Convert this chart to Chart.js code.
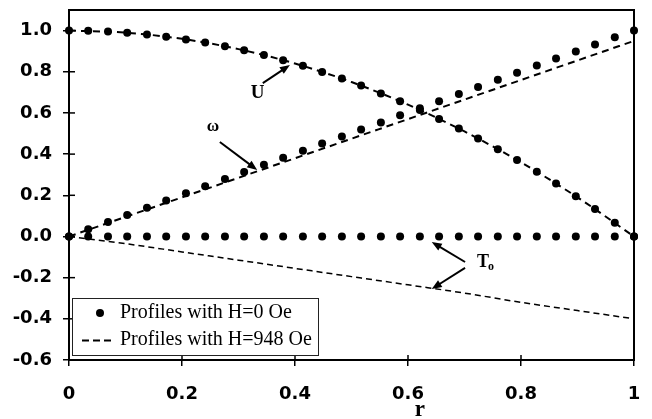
<!DOCTYPE html>
<html>
<head>
<meta charset="utf-8">
<script src="https://cdn.jsdelivr.net/npm/chart.js@4/dist/chart.umd.min.js"></script>
<style>
    body { margin: 0; background: #fff; }
    #wrap { width: 652px; height: 419px; position: relative; }
</style>
</head>
<body>
<div id="wrap"><canvas id="profileChart"></canvas></div>
<script>
// radial positions of the symbols (H = 0 Oe)
const rDots = [0, 0.034, 0.069, 0.103, 0.138, 0.172, 0.207, 0.241, 0.276, 0.310,
    0.345, 0.379, 0.414, 0.448, 0.483, 0.517, 0.552, 0.586, 0.621, 0.655,
    0.690, 0.724, 0.759, 0.793, 0.828, 0.862, 0.897, 0.931, 0.966, 1.0];
const uDots = [1.000, 0.999, 0.995, 0.989, 0.981, 0.970, 0.957, 0.942, 0.924, 0.904,
    0.881, 0.856, 0.829, 0.799, 0.767, 0.733, 0.695, 0.657, 0.614, 0.571,
    0.524, 0.476, 0.424, 0.371, 0.314, 0.257, 0.195, 0.133, 0.067, 0.000];
const omegaDots = [0, 0.035, 0.070, 0.104, 0.140, 0.175, 0.210, 0.244, 0.279, 0.313,
    0.348, 0.382, 0.416, 0.451, 0.486, 0.519, 0.554, 0.589, 0.623, 0.657,
    0.692, 0.726, 0.761, 0.795, 0.830, 0.864, 0.899, 0.933, 0.968, 1.0];
const tDots = [0, 0, 0, 0, 0, 0, 0, 0, 0, 0, 0, 0, 0, 0, 0,
    0, 0, 0, 0, 0, 0, 0, 0, 0, 0, 0, 0, 0, 0, 0];

// dashed curves (H = 948 Oe)
const rLine = [0, 0.1, 0.2, 0.3, 0.4, 0.5, 0.6, 0.7, 0.8, 0.9, 1.0];
const uLine = [1.0, 0.99, 0.96, 0.91, 0.84, 0.75, 0.64, 0.51, 0.36, 0.19, 0.0];
const omegaLine = [0, 0.095, 0.19, 0.285, 0.38, 0.475, 0.57, 0.665, 0.76, 0.855, 0.95];
const tLine = [0, -0.035, -0.075, -0.115, -0.155, -0.195, -0.235, -0.275, -0.32, -0.36, -0.40];

const xTicks = [0, 0.2, 0.4, 0.6, 0.8, 1];
const yTicks = [-0.6, -0.4, -0.2, 0.0, 0.2, 0.4, 0.6, 0.8, 1.0];
const legendLabels = ['Profiles with H=0 Oe', 'Profiles with H=948 Oe'];
const xTitle = 'r';

function pairs(xs, ys) {
    return xs.map((x, i) => ({ x: x, y: ys[i] }));
}

function dotSet(ys) {
    return {
        data: pairs(rDots, ys),
        showLine: false,
        pointRadius: 4,
        pointBackgroundColor: '#000',
        pointBorderColor: '#000',
        pointBorderWidth: 0,
        clip: false
    };
}

function dashSet(ys, width, dash) {
    return {
        data: pairs(rLine, ys),
        showLine: true,
        pointRadius: 0,
        borderColor: '#000',
        borderWidth: width,
        borderDash: dash,
        cubicInterpolationMode: 'monotone',
        clip: false
    };
}

function arrow(ctx, x1, y1, x2, y2) {
    const a = Math.atan2(y2 - y1, x2 - x1);
    ctx.beginPath();
    ctx.moveTo(x1, y1);
    ctx.lineTo(x2 - 6 * Math.cos(a), y2 - 6 * Math.sin(a));
    ctx.stroke();
    ctx.beginPath();
    ctx.moveTo(x2, y2);
    ctx.lineTo(x2 - 10 * Math.cos(a) + 4 * Math.sin(a), y2 - 10 * Math.sin(a) - 4 * Math.cos(a));
    ctx.lineTo(x2 - 10 * Math.cos(a) - 4 * Math.sin(a), y2 - 10 * Math.sin(a) + 4 * Math.cos(a));
    ctx.closePath();
    ctx.fill();
}

const decorations = {
    id: 'decorations',
    afterDatasetsDraw(chart) {
        const { ctx, chartArea: a, scales: { x, y } } = chart;
        const px = v => x.getPixelForValue(v);
        const py = v => y.getPixelForValue(v);
        ctx.save();
        ctx.strokeStyle = '#000';
        ctx.fillStyle = '#000';

        // frame and inner tick marks
        ctx.lineWidth = 2;
        ctx.strokeRect(a.left, a.top, a.right - a.left, a.bottom - a.top);
        ctx.lineWidth = 1.5;
        yTicks.forEach(v => {
            ctx.beginPath();
            ctx.moveTo(a.left, py(v));
            ctx.lineTo(a.left + 6, py(v));
            ctx.stroke();
        });
        xTicks.forEach(v => {
            ctx.beginPath();
            ctx.moveTo(px(v), a.bottom);
            ctx.lineTo(px(v), a.bottom - 5);
            ctx.stroke();
        });

        // curve labels with arrows
        ctx.lineWidth = 2;
        arrow(ctx, px(0.343), py(0.745), px(0.391), py(0.833));
        arrow(ctx, px(0.267), py(0.459), px(0.333), py(0.323));
        arrow(ctx, px(0.701), py(-0.124), px(0.642), py(-0.027));
        arrow(ctx, px(0.701), py(-0.153), px(0.642), py(-0.255));
        ctx.textAlign = 'center';
        ctx.textBaseline = 'middle';
        ctx.font = 'bold 19px "Liberation Serif"';
        ctx.fillText('U', px(0.334), py(0.697));
        ctx.font = 'bold 17px "Liberation Serif"';
        ctx.fillText('ω', px(0.255), py(0.535));
        ctx.font = 'bold 18px "Liberation Serif"';
        ctx.textAlign = 'left';
        ctx.fillText('T', px(0.722), py(-0.125));
        ctx.font = 'bold 12px "Liberation Serif"';
        ctx.fillText('o', px(0.722) + 11, py(-0.125) + 5);

        // axis title, placed right of centre as in the original
        ctx.textAlign = 'center';
        ctx.font = 'bold 23px "Liberation Serif"';
        ctx.fillText(xTitle, px(0.621), 410);

        // legend
        const lx = 72, ly = 298, lw = 246, lh = 57;
        ctx.fillStyle = '#fff';
        ctx.fillRect(lx, ly, lw, lh);
        ctx.lineWidth = 1;
        ctx.strokeStyle = '#222';
        ctx.strokeRect(lx + 0.5, ly + 0.5, lw, lh);
        ctx.fillStyle = '#000';
        ctx.strokeStyle = '#000';
        ctx.beginPath();
        ctx.arc(100, 313, 4, 0, Math.PI * 2);
        ctx.fill();
        ctx.lineWidth = 2;
        ctx.setLineDash([7, 4]);
        ctx.beginPath();
        ctx.moveTo(82, 340.5);
        ctx.lineTo(111, 340.5);
        ctx.stroke();
        ctx.setLineDash([]);
        ctx.font = '20px "Liberation Serif"';
        ctx.textAlign = 'left';
        ctx.fillText(legendLabels[0], 120, 313);
        ctx.fillText(legendLabels[1], 120, 340);
        ctx.restore();
    }
};

new Chart(document.getElementById('profileChart'), {
    type: 'scatter',
    data: {
        datasets: [
            dotSet(uDots),
            dotSet(omegaDots),
            dotSet(tDots),
            dashSet(uLine, 2, [7, 5]),
            dashSet(omegaLine, 2, [7, 5]),
            dashSet(tLine, 1.5, [6, 4])
        ]
    },
    options: {
        responsive: true,
        maintainAspectRatio: false,
        animation: false,
        layout: { padding: { left: 0, right: 18, top: 10, bottom: 0 } },
        plugins: {
            legend: { display: false },
            tooltip: { enabled: false }
        },
        scales: {
            x: {
                type: 'linear',
                min: 0,
                max: 1,
                afterBuildTicks: scale => { scale.ticks = xTicks.map(v => ({ value: v })); },
                afterFit: scale => {
                    scale.height = 59;
                    scale.paddingLeft = 0;
                    scale.paddingRight = 0;
                },
                border: { color: '#000', width: 2 },
                grid: { drawOnChartArea: false, color: '#000', lineWidth: 1.5, tickLength: 6 },
                ticks: {
                    color: '#000',
                    padding: 18,
                    maxRotation: 0,
                    font: { family: 'DejaVu Sans', size: 18, weight: 'bold' },
                    callback: v => (v === 0 || v === 1) ? String(v) : v.toFixed(1)
                }
            },
            y: {
                min: -0.6,
                max: 1.1,
                afterBuildTicks: scale => { scale.ticks = yTicks.map(v => ({ value: v })); },
                afterFit: scale => {
                    scale.width = 69;
                    scale.paddingTop = 0;
                    scale.paddingBottom = 0;
                },
                border: { color: '#000', width: 2 },
                grid: { drawOnChartArea: false, color: '#000', lineWidth: 1.5, tickLength: 6 },
                ticks: {
                    color: '#000',
                    padding: 11,
                    font: { family: 'DejaVu Sans', size: 18, weight: 'bold' },
                    callback: v => v.toFixed(1)
                }
            }
        }
    },
    plugins: [decorations]
});
</script>
</body>
</html>
